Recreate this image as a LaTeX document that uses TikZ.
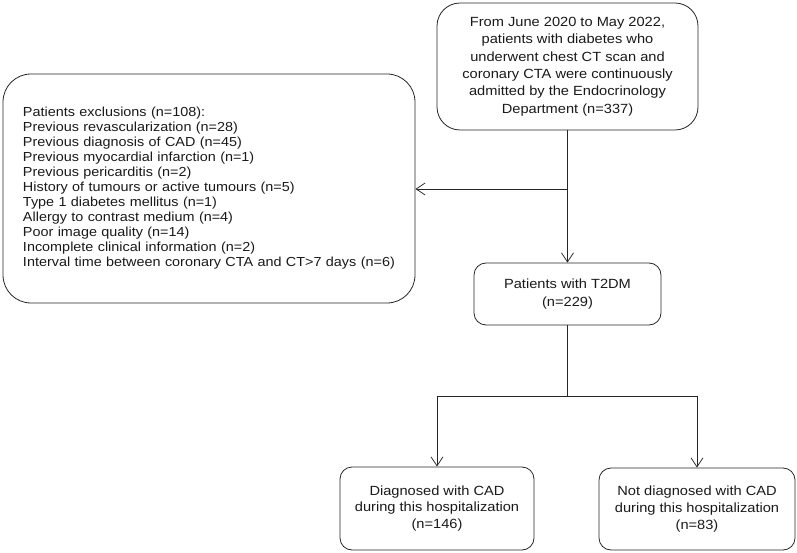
\documentclass[tikz,border=0pt]{standalone}
\usepackage{fontspec}
\setmainfont[FakeStretch=1.1]{Liberation Sans}
\usetikzlibrary{arrows.meta}
\tikzset{
  box/.style={draw=black!85, line width=0.8pt, align=center, inner sep=0pt,
    font=\fontsize{13.3}{17.4}\selectfont, text=black!90},
  arr/.style={draw=black!85, line width=0.8pt, -{Straight Barb[length=9pt,width=12pt,line width=0.8pt]}},
  ln/.style={draw=black!85, line width=0.8pt}
}
\begin{document}
\begin{tikzpicture}[x=1pt,y=1pt]
\useasboundingbox (0,0) rectangle (797,-553);
\node[box, minimum width=261pt, minimum height=127pt, rounded corners=23pt] (top) at (567.5,-66.5)
  {From June 2020 to May 2022,\\patients with diabetes who\\underwent chest CT scan and\\coronary CTA were continuously\\admitted by the Endocrinology\\Department (n=337)};
\node[box, minimum width=412pt, minimum height=229pt, rounded corners=28pt, align=left,
  text width=372pt, inner xsep=20pt, font=\fontsize{13.1}{15}\selectfont] (excl) at (209,-188.5)
  {Patients exclusions (n=108):\\
   Previous revascularization (n=28)\\
   Previous diagnosis of CAD (n=45)\\
   Previous myocardial infarction (n=1)\\
   Previous pericarditis (n=2)\\
   History of tumours or active tumours (n=5)\\
   Type 1 diabetes mellitus (n=1)\\
   Allergy to contrast medium (n=4)\\
   Poor image quality (n=14)\\
   Incomplete clinical information (n=2)\\
   Interval time between coronary CTA and CT>7 days (n=6)};
\node[box, minimum width=187pt, minimum height=62pt, rounded corners=12pt] (t2dm) at (567.5,-294)
  {Patients with T2DM\\(n=229)};
\node[box, minimum width=194pt, minimum height=83pt, rounded corners=12pt, font=\fontsize{13.3}{16.7}\selectfont] (cad) at (437,-508.5)
  {Diagnosed with CAD\\during this hospitalization\\(n=146)};
\node[box, minimum width=196pt, minimum height=82pt, rounded corners=12pt, font=\fontsize{13.3}{16.7}\selectfont] (nocad) at (697,-509)
  {Not diagnosed with CAD\\during this hospitalization\\(n=83)};
\coordinate (mid) at (567.5,-189);
\coordinate (split) at (567.5,-396);
\draw[arr] (top.south) -- (t2dm.north);
\draw[arr] (mid) -- (excl.east |- mid);
\draw[ln] (t2dm.south) -- (split);
\draw[arr] (split) -| (cad.north);
\draw[arr] (split) -| (nocad.north);
\end{tikzpicture}
\end{document}
